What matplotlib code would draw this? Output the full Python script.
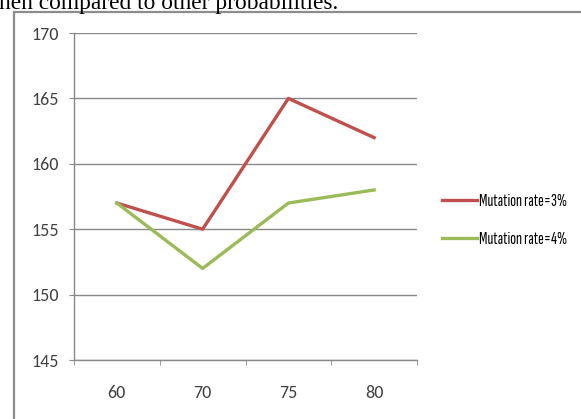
import matplotlib
matplotlib.use('Agg')
import matplotlib.pyplot as plt
from matplotlib.patches import Rectangle
import numpy as np

# data
categories = ['60', '70', '75', '80']
rate_3 = [157, 155, 165, 162]
rate_4 = [157, 152, 157, 158]
labels = ['Mutation rate=3%', 'Mutation rate=4%']
yticks = [145, 150, 155, 160, 165, 170]

red = '#C0504D'
green = '#9BBB59'
grey = '#898989'

fig = plt.figure(figsize=(5.81, 4.19), dpi=100)

# cut-off sentence above the chart
fig.text(-0.002, 1 - 9/419, 'hen compared to other probabilities.',
         family='Liberation Serif', fontsize=16.8, va='baseline', ha='left')

# chart border (runs off the right and bottom of the picture)
fig.patches.append(Rectangle((14/581, -0.1), 1.2, 1 - 12/419 + 0.1,
                             transform=fig.transFigure, fill=False,
                             edgecolor='#8c8c8c', lw=1.6))

ax = fig.add_axes([74/581, 59/419, 343/581, 327/419])
x = np.arange(len(categories))
ax.plot(x, rate_3, color=red, lw=2.4, label=labels[0], solid_joinstyle='round')
ax.plot(x, rate_4, color=green, lw=2.4, label=labels[1], solid_joinstyle='round')

ax.set_xlim(-0.5, len(categories) - 0.5)
ax.set_ylim(145, 170)
ax.set_yticks(yticks)
ax.set_xticks(x)
ax.set_xticklabels(categories)
ax.set_xticks(np.arange(len(categories) + 1) - 0.5, minor=True)

ax.yaxis.grid(True, color=grey, lw=1.0)
ax.set_axisbelow(True)
for s in ['top', 'right']:
    ax.spines[s].set_visible(False)
for s in ['left', 'bottom']:
    ax.spines[s].set_color(grey)
    ax.spines[s].set_linewidth(1.0)

for lab in ax.get_xticklabels() + ax.get_yticklabels():
    lab.set_family('Carlito')
ax.tick_params(axis='y', length=3.6, color=grey, pad=7, labelsize=13,
               labelcolor='#404040')
ax.tick_params(axis='x', which='major', length=0, pad=18, labelsize=13,
               labelcolor='#404040')
ax.tick_params(axis='x', which='minor', length=3.6, color=grey)

fig.legend(loc='center left', bbox_to_anchor=(442/581, 1 - 220.5/419),
           frameon=False, handlelength=2.0, handletextpad=0.12,
           borderpad=0, borderaxespad=0, labelspacing=1.35,
           prop={'family': 'Sofia Sans Extra Condensed', 'size': 12.5})

fig.savefig('out.png', dpi=100)
